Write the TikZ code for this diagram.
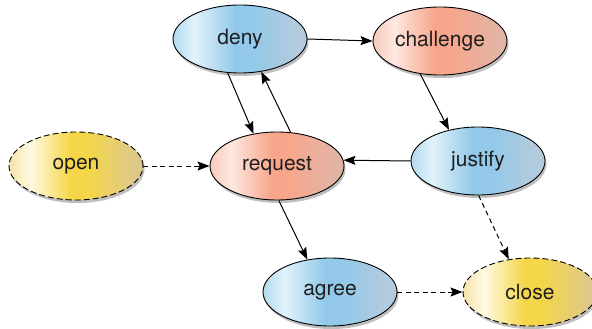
\documentclass[tikz,border=0pt]{standalone}
\usepackage{fontspec}
\setmainfont{TeX Gyre Heros}
\usetikzlibrary{shapes.geometric,arrows.meta,shadows}
\definecolor{txt}{HTML}{1E1E1E}
\definecolor{bluel}{HTML}{B3DAF1}
\definecolor{blueh}{HTML}{E2F2FB}
\definecolor{bluem}{HTML}{92C9EA}
\definecolor{bluer}{HTML}{B4CBDC}
\definecolor{orl}{HTML}{F8CABC}
\definecolor{orh}{HTML}{FDE8E0}
\definecolor{orm}{HTML}{F7A68B}
\definecolor{orr}{HTML}{E2B4A6}
\definecolor{yel}{HTML}{F4E4AA}
\definecolor{yeh}{HTML}{FFF9E2}
\definecolor{yem}{HTML}{F5D648}
\definecolor{yer}{HTML}{DCC98A}
\pgfdeclarehorizontalshading{blueshade}{100bp}{%
  color(0bp)=(bluel);
  color(25bp)=(bluel);
  color(33bp)=(blueh);
  color(48bp)=(bluem);
  color(54bp)=(bluem);
  color(72bp)=(bluer);
  color(100bp)=(bluer)}
\pgfdeclarehorizontalshading{orangeshade}{100bp}{%
  color(0bp)=(orl);
  color(25bp)=(orl);
  color(33bp)=(orh);
  color(48bp)=(orm);
  color(54bp)=(orm);
  color(72bp)=(orr);
  color(100bp)=(orr)}
\pgfdeclarehorizontalshading{yellowshade}{100bp}{%
  color(0bp)=(yel);
  color(25bp)=(yel);
  color(33bp)=(yeh);
  color(48bp)=(yem);
  color(54bp)=(yem);
  color(72bp)=(yer);
  color(100bp)=(yer)}
\tikzset{
  state/.style={ellipse, draw=black, line width=0.9pt, minimum width=134pt,
    minimum height=68pt, inner sep=0pt, text=txt,
    font=\fontsize{21}{25}\selectfont,
    drop shadow={shadow xshift=1.5pt, shadow yshift=-3pt, opacity=0.25, fill=black}},
  bluest/.style={state, shading=blueshade},
  orangest/.style={state, shading=orangeshade},
  yellowst/.style={state, shading=yellowshade, dash pattern=on 6pt off 3pt},
  arr/.style={line width=1pt, -{Stealth[length=12pt,width=9pt,inset=2pt]}},
  darr/.style={arr, dash pattern=on 5pt off 3.5pt}
}
\begin{document}
\begin{tikzpicture}[x=1pt,y=1pt]
\useasboundingbox (0,0) rectangle (592,-329);
\node[bluest] (deny) at (240,-39) {deny};
\node[orangest] (challenge) at (440,-41) {challenge};
\node[orangest] (request) at (277,-166) {request};
\node[yellowst] (open) at (76,-166) {open};
\node[bluest] (justify) at (478,-161) {justify};
\node[bluest] (agree) at (330,-292) {agree};
\node[yellowst] (close) at (530,-292) {close};
\draw[arr] (deny.east) -- (challenge.west);
\draw[arr] (deny.250) -- (request.126);
\draw[arr] (request.68) -- (deny.303);
\draw[arr] (challenge.239) -- (justify.133);
\draw[arr] (justify.west) -- (request.5);
\draw[darr] (open.east) -- (request.west);
\draw[arr] (request.273) -- (agree.125);
\draw[darr] (justify.271) -- (close.123);
\draw[darr] (agree.east) -- (close.west);
\end{tikzpicture}
\end{document}
